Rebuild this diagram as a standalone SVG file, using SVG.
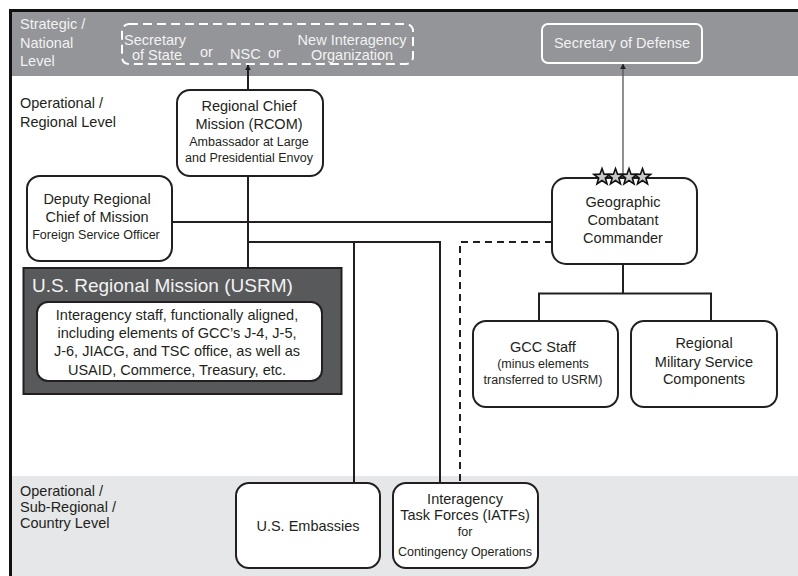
<svg xmlns="http://www.w3.org/2000/svg" width="798" height="576" viewBox="0 0 798 576">
<style>
text{font-family:"Liberation Sans",Arial,sans-serif;fill:#231f20}
.w{fill:#f2f2f2}
.m{font-size:14.5px}
.s{font-size:12.5px}
.c{text-anchor:middle}
.box{fill:#fff;stroke:#231f20;stroke-width:2}
.ln{stroke:#231f20;stroke-width:2;fill:none}
.dash{stroke-dasharray:7 5}
</style>
<defs>
<marker id="ah" viewBox="0 0 10 10" refX="9" refY="5" markerWidth="6" markerHeight="7" orient="auto" markerUnits="userSpaceOnUse">
<path d="M0,0 L10,5 L0,10 Z" fill="#231f20"/>
</marker>
<path id="star" d="M0,-8.5 L2.06,-2.84 L8.08,-2.63 L3.34,1.08 L5,6.88 L0,3.5 L-5,6.88 L-3.34,1.08 L-8.08,-2.63 L-2.06,-2.84 Z" fill="#c8c8ca" stroke="#111" stroke-width="1.6" stroke-linejoin="miter"/>
</defs>
<rect x="0" y="0" width="798" height="576" fill="#fff"/>
<g id="bands">
<rect x="11" y="11" width="787" height="65" fill="#939598"/>
<rect x="11" y="476" width="787" height="100" fill="#e6e7e9"/>
<path d="M10.5,576 V10.5 H798" fill="none" stroke="#111" stroke-width="3"/>
</g>
<g id="level-labels">
<text class="m w" x="20" y="29">Strategic /</text>
<text class="m w" x="20" y="48">National</text>
<text class="m w" x="20" y="66">Level</text>
<text class="m" x="20" y="108">Operational /</text>
<text class="m" x="20" y="127">Regional Level</text>
<text class="m" x="20" y="496">Operational /</text>
<text class="m" x="20" y="512">Sub-Regional /</text>
<text class="m" x="20" y="528">Country Level</text>
</g>
<g id="connectors">
<line class="ln" x1="248" y1="90" x2="248" y2="65" stroke-width="1.5" marker-end="url(#ah)"/>
<line x1="623" y1="176" x2="623" y2="64" stroke="#555" stroke-width="1.3" marker-end="url(#ah)"/>
<line class="ln" x1="248" y1="176" x2="248" y2="268"/>
<line class="ln" x1="172" y1="222" x2="552" y2="222"/>
<path class="ln" d="M248,242 H440 V483"/>
<line class="ln" x1="354" y1="242" x2="354" y2="483"/>
<path class="ln dash" d="M552,242 H460 V483"/>
<path class="ln" d="M623,264 V293.5 M539,322 V293.5 H711 V322"/>
</g>
<g id="policy-options">
<rect x="122" y="24" width="291" height="40" rx="7" fill="none" stroke="#fff" stroke-width="2" stroke-dasharray="9 5"/>
<text class="m w" x="124" y="45">Secretary</text>
<text class="m w" x="132" y="60">of State</text>
<text class="m w" x="200" y="57">or</text>
<text class="m w" x="230" y="59">NSC</text>
<text class="m w" x="268" y="58">or</text>
<text class="m w c" x="352" y="45">New Interagency</text>
<text class="m w c" x="352" y="60">Organization</text>
</g>
<g id="secdef">
<rect x="542" y="24" width="160" height="39" rx="6" fill="none" stroke="#fff" stroke-width="2"/>
<text class="m w c" x="622" y="48">Secretary of Defense</text>
</g>
<g id="rcom">
<rect class="box" x="177" y="90" width="146" height="86" rx="13"/>
<text class="m c" x="249" y="111">Regional Chief</text>
<text class="m c" x="249" y="129">Mission (RCOM)</text>
<text class="s c" x="249" y="146">Ambassador at Large</text>
<text class="s c" x="249" y="162">and Presidential Envoy</text>
</g>
<g id="deputy">
<rect class="box" x="27" y="176" width="145" height="85" rx="13"/>
<text class="m c" x="97" y="204">Deputy Regional</text>
<text class="m c" x="97" y="222">Chief of Mission</text>
<text class="s c" x="96" y="239">Foreign Service Officer</text>
</g>
<g id="usrm">
<rect x="23.5" y="268" width="318" height="126" fill="#58595b" stroke="#231f20" stroke-width="2"/>
<text x="32" y="292" font-size="19" class="w">U.S. Regional Mission (USRM)</text>
<rect class="box" x="37" y="302" width="285" height="79" rx="11"/>
<text class="m c" x="177" y="320">Interagency staff, functionally aligned,</text>
<text class="m c" x="177" y="338">including elements of GCC’s J-4, J-5,</text>
<text class="m c" x="177" y="356">J-6, JIACG, and TSC office, as well as</text>
<text class="m c" x="177" y="375">USAID, Commerce, Treasury, etc.</text>
</g>
<g id="gcc">
<rect class="box" x="552" y="178" width="145" height="86" rx="14"/>
<text class="m c" x="623" y="207">Geographic</text>
<text class="m c" x="623" y="225">Combatant</text>
<text class="m c" x="623" y="243">Commander</text>
<use href="#star" x="602" y="177"/>
<use href="#star" x="615.5" y="177"/>
<use href="#star" x="629" y="177"/>
<use href="#star" x="642.5" y="177"/>
</g>
<g id="gcc-staff">
<rect class="box" x="473" y="321" width="145" height="86" rx="13"/>
<text class="m c" x="543" y="352">GCC Staff</text>
<text class="s c" x="543" y="368">(minus elements</text>
<text class="s c" x="543" y="384">transferred to USRM)</text>
</g>
<g id="msc">
<rect class="box" x="631" y="321" width="146" height="86" rx="13"/>
<text class="m c" x="704" y="348">Regional</text>
<text class="m c" x="704" y="367">Military Service</text>
<text class="m c" x="704" y="384">Components</text>
</g>
<g id="embassies">
<rect class="box" x="236" y="483" width="144" height="85" rx="13"/>
<text class="m c" x="308" y="531">U.S. Embassies</text>
</g>
<g id="iatf">
<rect class="box" x="393" y="483" width="145" height="85" rx="13"/>
<text class="m c" x="465" y="504">Interagency</text>
<text class="m c" x="465" y="520">Task Forces (IATFs)</text>
<text class="s c" x="465" y="536" font-size="11">for</text>
<text class="s c" x="465" y="556">Contingency Operations</text>
</g>
</svg>
